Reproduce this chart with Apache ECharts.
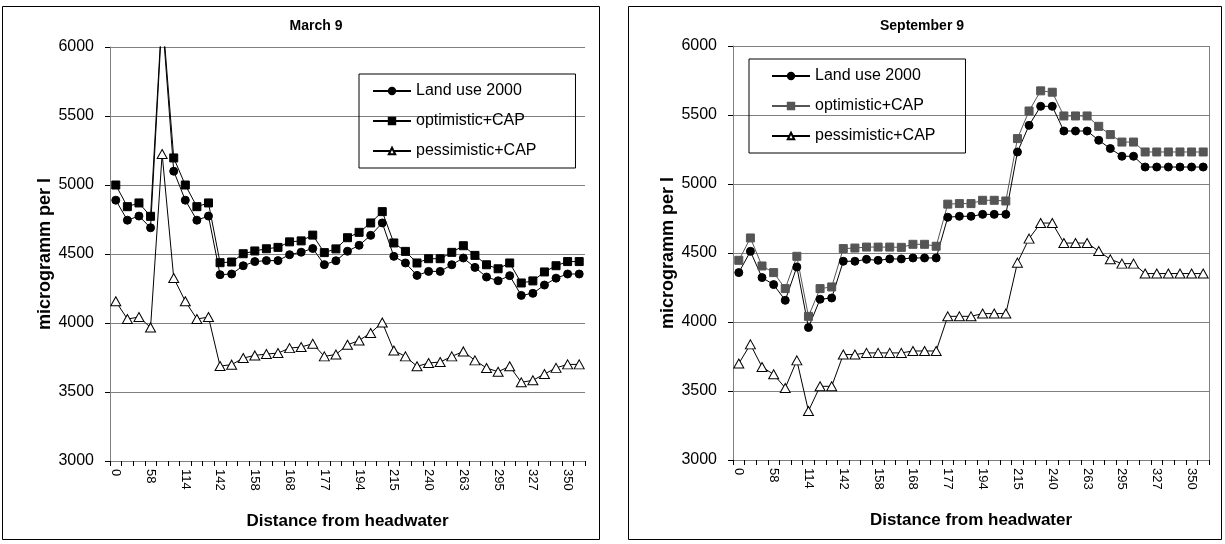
<!DOCTYPE html>
<html>
<head>
<meta charset="utf-8">
<script src="https://cdn.jsdelivr.net/npm/echarts@6/dist/echarts.min.js"></script>
<style>
  html, body { margin: 0; padding: 0; background: #fff; }
  #chart { width: 1225px; height: 544px; }
</style>
</head>
<body>
<div id="chart"></div>
<script>
// distance from headwater (only every 3rd is labelled)
var distances = ['0', '19', '39', '58', '77', '95', '114', '123', '133', '142', '147', '153', '158', '161', '165',
  '168', '171', '174', '177', '183', '188', '194', '201', '208', '215', '223', '232', '240', '248', '255',
  '263', '274', '284', '295', '306', '316', '327', '335', '342', '350', '358'];
var yTicks = [3000, 3500, 4000, 4500, 5000, 5500, 6000];

// March 9
var landMar = [4890, 4745, 4775, 4690, 6220, 5100, 4890, 4745, 4775, 4350, 4355, 4415, 4445, 4452, 4452,
  4495, 4513, 4540, 4423, 4451, 4520, 4563, 4635, 4725, 4483, 4435, 4345, 4374, 4374, 4422,
  4471, 4403, 4333, 4306, 4343, 4200, 4215, 4275, 4325, 4355, 4355];
var optMar = [5000, 4843, 4870, 4773, 6260, 5196, 5000, 4843, 4870, 4437, 4442, 4502, 4522, 4538, 4548,
  4588, 4595, 4637, 4510, 4537, 4618, 4657, 4725, 4807, 4580, 4519, 4435, 4466, 4466, 4512,
  4560, 4490, 4422, 4393, 4435, 4290, 4305, 4370, 4415, 4445, 4445];
var pessMar = [4157, 4029, 4043, 3968, 5225, 4326, 4157, 4029, 4043, 3688, 3698, 3746, 3765, 3775, 3782,
  3818, 3826, 3850, 3758, 3772, 3842, 3873, 3928, 4004, 3801, 3758, 3686, 3710, 3717, 3758,
  3794, 3729, 3674, 3647, 3686, 3570, 3585, 3630, 3675, 3700, 3700];

// September 9
var landSep = [4358, 4512, 4322, 4271, 4157, 4399, 3960, 4165, 4174, 4440, 4440, 4454, 4447, 4457, 4457,
  4464, 4464, 4464, 4759, 4766, 4766, 4780, 4780, 4780, 5232, 5425, 5563, 5563, 5384, 5384,
  5384, 5317, 5257, 5201, 5201, 5123, 5123, 5123, 5123, 5123, 5123];
var optSep = [4447, 4609, 4406, 4358, 4242, 4476, 4041, 4242, 4254, 4532, 4536, 4543, 4543, 4543, 4541,
  4563, 4563, 4549, 4854, 4858, 4858, 4882, 4882, 4877, 5329, 5529, 5675, 5665, 5493, 5493,
  5493, 5418, 5358, 5304, 5304, 5232, 5232, 5232, 5232, 5232, 5232];
var pessSep = [3699, 3838, 3674, 3621, 3522, 3722, 3355, 3534, 3534, 3764, 3764, 3776, 3776, 3776, 3776,
  3790, 3790, 3790, 4041, 4041, 4041, 4061, 4061, 4061, 4430, 4604, 4717, 4717, 4572, 4572,
  4572, 4514, 4454, 4423, 4423, 4351, 4351, 4351, 4351, 4351, 4351];

var FONT = 'Liberation Sans, Arial, sans-serif';
var GREY = '#555555';

function xAxisFor(idx) {
  return {
    type: 'category',
    gridIndex: idx,
    data: distances,
    boundaryGap: true,
    name: 'Distance from headwater',
    nameLocation: 'middle',
    nameGap: 52,
    nameTextStyle: { fontFamily: FONT, fontSize: 17, fontWeight: 'bold', color: '#000' },
    axisLine: { lineStyle: { color: '#808080', width: 1 } },
    axisTick: { show: true, interval: 0, length: 5, lineStyle: { color: '#000' } },
    axisLabel: { interval: 2, rotate: -90, fontFamily: FONT, fontSize: 13, color: '#000', margin: 8 },
    splitLine: { show: false }
  };
}

function yAxisFor(idx) {
  return {
    type: 'value',
    gridIndex: idx,
    min: yTicks[0],
    max: yTicks[yTicks.length - 1],
    interval: 500,
    name: 'microgramm per l',
    nameLocation: 'middle',
    nameGap: 56,
    nameRotate: 90,
    nameTextStyle: { fontFamily: FONT, fontSize: 18, fontWeight: 'bold', color: '#000' },
    axisLine: { show: true, lineStyle: { color: '#808080', width: 1 } },
    axisTick: { show: true, length: 5, lineStyle: { color: '#000' } },
    axisLabel: { fontFamily: FONT, fontSize: 16, color: '#000', margin: 16,
      formatter: function (v) { return String(v); } },
    splitLine: { show: true, lineStyle: { color: '#808080', width: 1 } }
  };
}

function lineSeries(name, idx, data, symbol, color, fill, size) {
  return {
    name: name,
    type: 'line',
    xAxisIndex: idx,
    yAxisIndex: idx,
    data: data,
    symbol: symbol,
    symbolSize: size,
    showAllSymbol: true,
    clip: true,
    lineStyle: { color: color, width: 1 },
    itemStyle: { color: fill, borderColor: color, borderWidth: 1 },
    emphasis: { disabled: true }
  };
}

function legendFor(left, top, padLeft, padRight, optColor) {
  return {
    orient: 'vertical',
    left: left,
    top: top,
    itemWidth: 38,
    itemHeight: 8,
    itemGap: 10,
    padding: [7, padRight, 7, padLeft],
    borderColor: '#000',
    borderWidth: 1,
    selectedMode: false,
    textStyle: { fontFamily: FONT, fontSize: 16, color: '#000', lineHeight: 20 },
    data: [
      { name: 'Land use 2000' },
      { name: 'optimistic+CAP', itemStyle: { color: optColor, borderColor: optColor }, lineStyle: { color: optColor } },
      { name: 'pessimistic+CAP' }
    ]
  };
}

var chart = echarts.init(document.getElementById('chart'), null, { renderer: 'canvas' });

var option = {
  animation: false,
  backgroundColor: '#fff',
  graphic: [
    { type: 'rect', shape: { x: 2.5, y: 6.5, width: 597, height: 533 }, style: { fill: 'none', stroke: '#000', lineWidth: 1 } },
    { type: 'rect', shape: { x: 628.5, y: 6.5, width: 593, height: 533 }, style: { fill: 'none', stroke: '#000', lineWidth: 1 } },
    { type: 'line', shape: { x1: 1209.5, y1: 46, x2: 1209.5, y2: 460 }, style: { stroke: '#808080', lineWidth: 1 } }
  ],
  title: [
    { text: 'March 9', left: 311, top: 14, textAlign: 'center',
      textStyle: { fontFamily: FONT, fontSize: 14, fontWeight: 'bold', color: '#000' } },
    { text: 'September 9', left: 917, top: 14, textAlign: 'center',
      textStyle: { fontFamily: FONT, fontSize: 14, fontWeight: 'bold', color: '#000' } }
  ],
  legend: [legendFor(359, 74, 13, 39, '#000'), legendFor(749, 59, 22, 30, GREY)],
  grid: [
    { left: 110, top: 47, width: 475, height: 414 },
    { left: 733, top: 46, width: 476, height: 414 }
  ],
  xAxis: [xAxisFor(0), xAxisFor(1)],
  yAxis: [yAxisFor(0), yAxisFor(1)],
  series: [
    lineSeries('Land use 2000', 0, landMar, 'circle', '#000', '#000', 8),
    lineSeries('optimistic+CAP', 0, optMar, 'rect', '#000', '#000', 8),
    lineSeries('pessimistic+CAP', 0, pessMar, 'triangle', '#000', '#fff', [10, 9]),
    lineSeries('Land use 2000', 1, landSep, 'circle', '#000', '#000', 8),
    lineSeries('optimistic+CAP', 1, optSep, 'rect', GREY, GREY, 8),
    lineSeries('pessimistic+CAP', 1, pessSep, 'triangle', '#000', '#fff', [10, 9])
  ]
};

chart.setOption(option);
</script>
</body>
</html>
